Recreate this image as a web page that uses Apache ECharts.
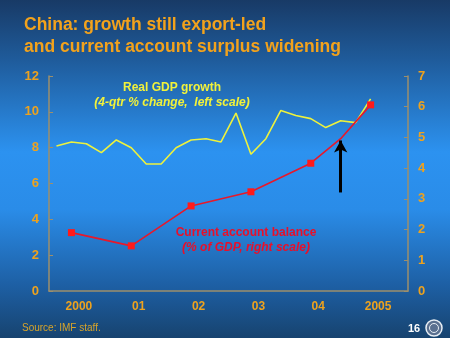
<!DOCTYPE html>
<html>
<head>
<meta charset="utf-8">
<script src="https://cdn.jsdelivr.net/npm/echarts@6/dist/echarts.min.js"></script>
<style>
html,body{margin:0;padding:0;background:#1a4a80;}
#chart{width:450px;height:338px;}
</style>
</head>
<body>
<div id="chart"></div>
<script>
// ---- data ----
var years = ['2000', '01', '02', '03', '04', '2005'];
// real GDP growth, 4-qtr % change, quarterly from 2000Q1 (left scale)
var gdpGrowth = [8.09, 8.32, 8.22, 7.72, 8.43, 8.0, 7.09, 7.09, 8.0, 8.43, 8.5, 8.32,
                 9.93, 7.63, 8.5, 10.08, 9.8, 9.62, 9.12, 9.5, 9.4, 10.72];
// current account balance, % of GDP (right scale): quarter index and value
var caQuarter = [1, 5, 9, 13, 17, 19, 21];
var caValue = [1.90, 1.47, 2.77, 3.23, 4.16, 4.96, 6.06];
var caMarked = [true, true, true, true, true, false, true];
var leftTicks = [0, 2, 4, 6, 8, 10, 12];
var rightTicks = [0, 1, 2, 3, 4, 5, 6, 7];
// arrow annotation: quarter position and left-scale span
var arrowAt = 19.5;
var arrowSpan = [5.5, 8.4];

var gdpData = gdpGrowth.map(function (v, i) { return [i + 0.5, v]; });
var caData = caValue.map(function (v, i) {
  var item = { value: [caQuarter[i] + 0.5, v] };
  if (!caMarked[i]) item.symbol = 'none';
  return item;
});

var orange = '#eda21e';
var axisCol = '#9c8f6c';
var chart = echarts.init(document.getElementById('chart'));
chart.setOption({
  backgroundColor: new echarts.graphic.LinearGradient(0, 0, 0, 1, [
    { offset: 0, color: '#183a66' },
    { offset: 0.18, color: '#1f5c9c' },
    { offset: 0.45, color: '#2c92f0' },
    { offset: 0.62, color: '#2a8ce8' },
    { offset: 0.85, color: '#1d5ea2' },
    { offset: 1, color: '#17436f' }
  ]),
  animation: false,
  grid: { left: 49, right: 42, top: 76, bottom: 47 },
  xAxis: [
    {
      type: 'category', data: years, boundaryGap: true,
      axisLine: { lineStyle: { color: axisCol, width: 1.5 } },
      axisTick: { inside: true, length: 4, lineStyle: { color: axisCol } },
      axisLabel: { color: orange, fontWeight: 'bold', fontSize: 12, fontFamily: 'Liberation Sans, Arial', margin: 10 },
      splitLine: { show: false }
    },
    { type: 'value', min: 0, max: 24, show: false, position: 'bottom' }
  ],
  yAxis: [
    {
      type: 'value', min: 0, max: 12, interval: 2,
      axisLine: { show: true, lineStyle: { color: axisCol, width: 1.5 } },
      axisTick: { show: true, inside: true, length: 4, lineStyle: { color: axisCol } },
      axisLabel: { color: orange, fontWeight: 'bold', fontSize: 13, fontFamily: 'Liberation Sans, Arial', margin: 10,
        formatter: function (v) { return leftTicks.indexOf(v) >= 0 ? String(v) : ''; } },
      splitLine: { show: false }
    },
    {
      type: 'value', min: 0, max: 7, interval: 1, position: 'right',
      axisLine: { show: true, lineStyle: { color: axisCol, width: 1.5 } },
      axisTick: { show: true, inside: true, length: 4, lineStyle: { color: axisCol } },
      axisLabel: { color: orange, fontWeight: 'bold', fontSize: 13, fontFamily: 'Liberation Sans, Arial', margin: 10,
        formatter: function (v) { return rightTicks.indexOf(v) >= 0 ? String(v) : ''; } },
      splitLine: { show: false }
    }
  ],
  series: [
    {
      name: 'Real GDP growth', type: 'line', xAxisIndex: 1, yAxisIndex: 0,
      data: gdpData, symbol: 'none',
      lineStyle: { color: '#eef23c', width: 1.6 },
      markLine: {
        silent: true, symbol: ['none', 'arrow'], symbolSize: [10, 12],
        label: { show: false },
        lineStyle: { color: '#000000', width: 3, type: 'solid' },
        data: [[{ coord: [arrowAt, arrowSpan[0]] }, { coord: [arrowAt, arrowSpan[1]] }]]
      }
    },
    {
      name: 'Current account balance', type: 'line', xAxisIndex: 1, yAxisIndex: 1,
      data: caData, symbol: 'rect', symbolSize: 7, showAllSymbol: true,
      lineStyle: { color: '#e8182a', width: 1.6 },
      itemStyle: { color: '#ff1a1a' }
    }
  ],
  graphic: [
    { type: 'text', left: 24, top: 14, style: { text: 'China: growth still export-led\nand current account surplus widening',
      fill: '#f2a21c', font: 'bold 17.5px "Liberation Sans", Arial', lineHeight: 22 } },
    { type: 'text', x: 172, y: 88, style: { text: 'Real GDP growth', fill: '#f2f23a',
      font: 'bold 12px "Liberation Sans", Arial', align: 'center', verticalAlign: 'middle',
      shadowColor: 'rgba(0,0,0,0.7)', shadowOffsetX: 1, shadowOffsetY: 1, shadowBlur: 1 } },
    { type: 'text', x: 172, y: 103, style: { text: '(4-qtr % change,  left scale)', fill: '#f2f23a',
      font: 'italic bold 12px "Liberation Sans", Arial', align: 'center', verticalAlign: 'middle',
      shadowColor: 'rgba(0,0,0,0.7)', shadowOffsetX: 1, shadowOffsetY: 1, shadowBlur: 1 } },
    { type: 'text', x: 246, y: 233, style: { text: 'Current account balance', fill: '#e8102a',
      font: 'bold 12px "Liberation Sans", Arial', align: 'center', verticalAlign: 'middle',
      shadowColor: 'rgba(0,0,0,0.7)', shadowOffsetX: 1, shadowOffsetY: 1, shadowBlur: 1 } },
    { type: 'text', x: 246, y: 248, style: { text: '(% of GDP, right scale)', fill: '#e8102a',
      font: 'italic bold 12px "Liberation Sans", Arial', align: 'center', verticalAlign: 'middle',
      shadowColor: 'rgba(0,0,0,0.7)', shadowOffsetX: 1, shadowOffsetY: 1, shadowBlur: 1 } },
    { type: 'text', x: 22, y: 328, style: { text: 'Source: IMF staff.', fill: '#d8a42a',
      font: '10px "Liberation Sans", Arial', verticalAlign: 'middle' } },
    { type: 'text', x: 414, y: 329, style: { text: '16', fill: '#ffffff',
      font: 'bold 11px "Liberation Sans", Arial', align: 'center', verticalAlign: 'middle' } },
    { type: 'circle', shape: { cx: 434, cy: 328, r: 8 }, style: { fill: '#5a7090', stroke: '#e8eef4', lineWidth: 1.5 } },
    { type: 'circle', shape: { cx: 434, cy: 328, r: 4.5 }, style: { fill: 'none', stroke: '#e8eef4', lineWidth: 1 } }
  ]
});
</script>
</body>
</html>
